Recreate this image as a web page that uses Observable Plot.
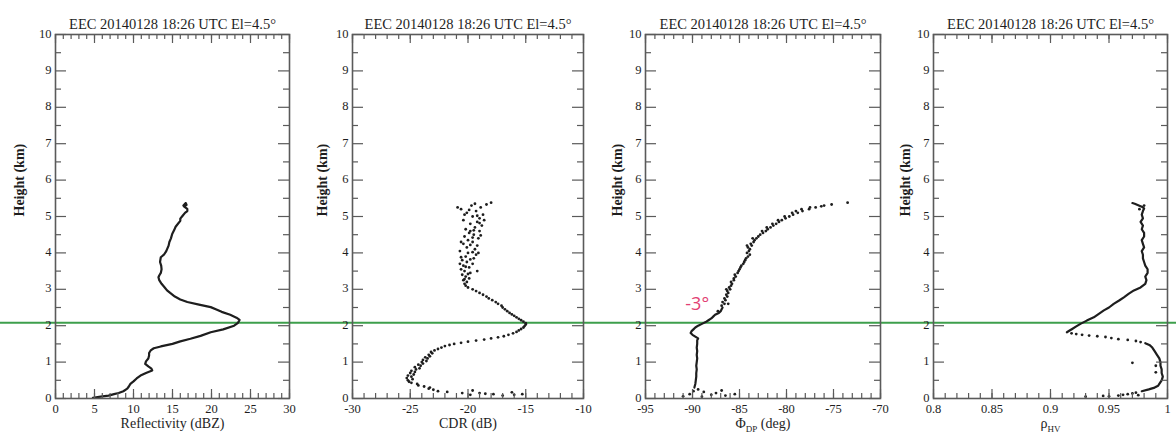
<!DOCTYPE html>
<html><head><meta charset="utf-8">
<script src="https://cdn.jsdelivr.net/npm/d3@7"></script>
<script src="https://cdn.jsdelivr.net/npm/@observablehq/plot@0.6"></script>
<style>
body{margin:0;background:#fff;}
#wrap{position:relative;width:1176px;height:443px;overflow:hidden;background:#fff;}
#wrap svg{position:absolute;top:0;max-width:none;}
</style></head><body><div id="wrap"></div>
<script>
const chartTitle = "EEC 20140128 18:26 UTC El=4.5°";
const heightLabel = "Height (km)";
const meltingLayerHeight = [2.08];
const heightMajor = [0,1,2,3,4,5,6,7,8,9,10];
const heightMinor = [0.5,1.5,2.5,3.5,4.5,5.5,6.5,7.5,8.5,9.5];

// Reflectivity profile [height km, dBZ]
const reflectivity = [[0.02,4.8],[0.05,5.8],[0.08,6.8],[0.12,7.5],[0.15,8.1],[0.2,8.7],[0.27,9.2],[0.33,9.4],[0.4,9.6],[0.47,10.0],[0.55,10.4],[0.63,10.9],[0.7,11.6],[0.77,12.4],[0.82,12.3],[0.88,11.9],[0.95,11.5],[1.02,11.6],[1.1,11.9],[1.18,12.0],[1.25,12.0],[1.32,12.2],[1.38,12.6],[1.43,13.5],[1.5,15.0],[1.57,16.0],[1.64,17.3],[1.72,18.6],[1.82,19.9],[1.9,21.5],[2.0,22.9],[2.08,23.4],[2.16,23.6],[2.22,23.2],[2.3,22.4],[2.38,21.3],[2.44,20.7],[2.51,19.9],[2.58,18.4],[2.65,16.9],[2.72,16.0],[2.8,15.3],[2.9,14.7],[2.97,14.3],[3.05,14.0],[3.15,13.6],[3.25,13.3],[3.33,13.2],[3.38,13.3],[3.45,13.5],[3.55,13.6],[3.65,13.55],[3.75,13.4],[3.88,13.5],[3.95,13.9],[4.05,14.2],[4.2,14.5],[4.3,14.6],[4.4,14.8],[4.52,14.96],[4.62,15.2],[4.72,15.4],[4.8,15.7],[4.88,16.0],[4.94,16.0],[5.02,16.3],[5.1,16.6],[5.15,16.9],[5.21,16.9],[5.27,16.5],[5.32,16.8],[5.37,16.7],[5.3,16.4]];

// CDR samples [height km, dB]
const cdr = [[0.08,-17.0],[0.1,-19.8],[0.12,-15.3],[0.13,-18.5],[0.15,-20.5],[0.17,-16.2],[0.18,-21.8],[0.2,-22.6],[0.22,-19.6],[0.24,-23.0],[0.27,-23.4],[0.3,-23.3],[0.33,-23.8],[0.36,-24.3],[0.4,-24.4],[0.43,-24.9],[0.46,-25.1],[0.5,-25.2],[0.53,-24.8],[0.56,-25.3],[0.6,-24.9],[0.63,-25.2],[0.66,-24.7],[0.7,-25.0],[0.73,-24.6],[0.76,-24.9],[0.8,-24.5],[0.83,-24.2],[0.86,-24.6],[0.9,-24.1],[0.93,-24.3],[0.96,-23.9],[1.0,-24.0],[1.03,-23.6],[1.06,-23.9],[1.1,-23.5],[1.13,-23.7],[1.16,-23.3],[1.2,-23.4],[1.24,-23.1],[1.28,-23.2],[1.32,-22.9],[1.36,-22.6],[1.4,-22.3],[1.44,-22.0],[1.47,-21.6],[1.5,-21.2],[1.53,-20.6],[1.56,-20.0],[1.59,-19.3],[1.62,-18.6],[1.65,-18.0],[1.68,-17.4],[1.71,-16.9],[1.75,-16.5],[1.79,-16.1],[1.83,-15.8],[1.87,-15.6],[1.91,-15.4],[1.95,-15.2],[1.99,-15.1],[2.03,-15.0],[2.07,-15.0],[2.11,-15.2],[2.15,-15.4],[2.19,-15.6],[2.23,-15.8],[2.27,-16.0],[2.31,-16.2],[2.35,-16.4],[2.4,-16.6],[2.45,-16.8],[2.5,-17.0],[2.55,-17.1],[2.6,-17.4],[2.65,-17.6],[2.7,-17.9],[2.75,-18.2],[2.8,-18.4],[2.85,-18.7],[2.9,-19.0],[2.95,-19.3],[3.0,-19.6],[3.05,-20.0],[3.1,-20.2],[3.15,-20.3],[3.2,-20.1],[3.25,-20.4],[3.3,-19.9],[3.35,-20.2],[3.4,-20.5],[3.45,-19.8],[3.5,-20.3],[3.55,-20.6],[3.6,-19.9],[3.65,-20.4],[3.7,-19.6],[3.75,-20.1],[3.8,-20.5],[3.85,-19.5],[3.9,-20.2],[3.95,-19.3],[4.0,-20.0],[4.05,-20.7],[4.1,-19.4],[4.15,-20.1],[4.2,-19.2],[4.25,-20.4],[4.3,-19.6],[4.35,-20.0],[4.4,-19.1],[4.45,-20.3],[4.5,-19.5],[4.55,-19.9],[4.6,-19.0],[4.65,-20.2],[4.7,-19.4],[4.75,-18.8],[4.8,-19.8],[4.85,-19.2],[4.9,-20.4],[4.95,-19.0],[5.0,-19.6],[5.05,-18.7],[5.1,-20.1],[5.15,-19.3],[5.2,-20.6],[5.25,-18.9],[5.3,-19.7],[5.33,-18.4],[5.38,-18.0],[3.5,-19.2],[3.7,-20.7],[4.0,-19.1],[4.3,-20.6],[4.6,-19.8],[4.9,-18.6],[5.05,-20.3],[5.25,-20.9],[5.35,-19.4],[0.15,-19.0],[0.12,-17.8],[0.1,-16.0],[3.42,-20.0],[3.62,-20.2],[3.82,-19.8],[4.02,-19.6],[4.22,-19.8],[4.42,-19.6],[4.62,-19.5],[4.82,-19.0],[5.02,-19.2],[5.18,-19.9],[3.28,-20.3],[3.88,-20.6],[4.48,-18.9]];

// Differential phase: continuous lower part and scattered samples [height km, deg]
const phiLine = [[0.3,-89.8],[0.4,-89.7],[0.5,-89.65],[0.6,-89.6],[0.7,-89.6],[0.8,-89.55],[0.9,-89.6],[1.0,-89.55],[1.1,-89.5],[1.2,-89.55],[1.3,-89.5],[1.4,-89.55],[1.5,-89.5],[1.6,-89.5],[1.65,-89.4],[1.7,-89.7],[1.75,-90.0],[1.8,-90.2],[1.85,-90.1],[1.9,-89.9],[1.95,-89.7],[2.0,-89.4],[2.05,-89.0],[2.1,-88.6],[2.15,-88.3],[2.2,-88.0],[2.25,-87.8],[2.3,-87.6],[2.35,-87.2],[2.4,-87.0],[2.45,-86.9],[2.5,-86.8]];
const phiDots = [[0.05,-89.0],[0.08,-86.5],[0.1,-88.0],[0.12,-90.3],[0.15,-87.5],[0.18,-88.8],[0.2,-89.9],[0.22,-86.9],[0.25,-89.4],[0.12,-85.5],[0.06,-91.0],[2.55,-86.9],[2.6,-86.6],[2.65,-86.8],[2.7,-86.5],[2.75,-86.6],[2.8,-86.3],[2.85,-86.4],[2.9,-86.2],[2.95,-86.3],[3.0,-86.0],[3.05,-86.1],[3.1,-85.9],[3.15,-85.8],[3.2,-85.9],[3.25,-85.6],[3.3,-85.6],[3.35,-85.4],[3.4,-85.5],[3.45,-85.2],[3.5,-85.1],[3.55,-85.0],[3.6,-84.9],[3.65,-84.8],[3.7,-84.6],[3.75,-84.5],[3.8,-84.4],[3.85,-84.3],[3.9,-84.1],[3.95,-83.9],[4.0,-84.2],[4.05,-84.0],[4.1,-83.9],[4.15,-84.1],[4.2,-83.7],[4.25,-83.8],[4.3,-83.5],[4.35,-83.4],[4.4,-83.2],[4.45,-83.0],[4.5,-82.8],[4.55,-82.5],[4.6,-82.2],[4.65,-82.0],[4.7,-81.7],[4.75,-81.4],[4.8,-81.1],[4.85,-80.8],[4.9,-80.5],[4.95,-80.1],[5.0,-79.7],[5.05,-79.3],[5.1,-78.8],[5.15,-78.3],[5.2,-77.6],[5.25,-76.9],[5.3,-76.0],[5.33,-75.2],[5.38,-73.5],[4.6,-82.6],[4.8,-81.5],[4.9,-80.9],[5.0,-80.2],[5.1,-79.4],[5.15,-79.0],[5.2,-78.4],[5.25,-77.5],[5.28,-76.3],[4.7,-82.1],[3.0,-86.4],[2.6,-86.2],[2.4,-87.3],[4.4,-83.6],[4.2,-84.2]];
const phiNote = [{text: "-3°", phi: -89.5, height: 2.6}];

// Copolar correlation [height km, rhoHV]
const rhoLower = [[0.2,0.978],[0.25,0.984],[0.3,0.989],[0.35,0.992],[0.4,0.993],[0.5,0.995],[0.6,0.996],[0.7,0.995],[0.8,0.995],[0.9,0.994],[1.0,0.994],[1.1,0.993],[1.2,0.991],[1.3,0.989],[1.4,0.987],[1.46,0.985],[1.52,0.981]];
const rhoUpper = [[1.82,0.914],[1.86,0.916],[1.91,0.9185],[1.98,0.922],[2.05,0.9256],[2.14,0.931],[2.23,0.937],[2.32,0.941],[2.42,0.9456],[2.5,0.95],[2.6,0.954],[2.7,0.959],[2.78,0.9627],[2.88,0.967],[2.97,0.9713],[3.05,0.977],[3.15,0.981],[3.25,0.982],[3.35,0.981],[3.45,0.983],[3.55,0.983],[3.65,0.981],[3.75,0.980],[3.85,0.979],[3.95,0.979],[4.05,0.978],[4.15,0.980],[4.25,0.979],[4.35,0.978],[4.45,0.980],[4.55,0.980],[4.65,0.978],[4.75,0.979],[4.85,0.977],[4.95,0.979],[5.05,0.978],[5.15,0.979],[5.22,0.980],[5.27,0.978],[5.31,0.975],[5.35,0.972],[5.37,0.970]];
const rhoDots = [[1.55,0.977],[1.58,0.973],[1.61,0.966],[1.63,0.958],[1.66,0.952],[1.69,0.947],[1.71,0.94],[1.73,0.933],[1.75,0.927],[1.77,0.922],[1.79,0.918],[0.05,0.93],[0.07,0.945],[0.08,0.958],[0.1,0.962],[0.12,0.966],[0.14,0.97],[0.16,0.973],[0.06,0.95],[0.09,0.975],[0.98,0.97],[0.9,0.99],[0.72,0.99],[5.3,0.98],[5.2,0.976]];

const panels = [
  {left: 0, width: 300, ml: 55, mr: 11, domain: [0,30], major: [0,5,10,15,20,25,30], minor: d3.range(0,31,1), label: {main: "Reflectivity (dBZ)"}, yLabelDx: -36},
  {left: 300, width: 295, ml: 52, mr: 12, domain: [-30,-10], major: [-30,-25,-20,-15,-10], minor: d3.range(-30,-9,1), label: {main: "CDR (dB)"}, yLabelDx: -30},
  {left: 595, width: 295, ml: 50, mr: 10, domain: [-95,-70], major: [-95,-90,-85,-80,-75,-70], minor: d3.range(-95,-69,1), label: {main: "Φ", sub: "DP", rest: " (deg)"}, yLabelDx: -28},
  {left: 890, width: 286, ml: 43, mr: 9, domain: [0.8,1], major: [0.8,0.85,0.9,0.95,1], minor: d3.range(80,101,1).map(d => d/100), label: {main: "ρ", sub: "HV", rest: ""}, yLabelDx: -28}
];

const ink = "#1e1e1e";
const axisGray = "#5a5a5a";
const H = 443, MT = 34, MB = 45;
const FH = H - MT - MB;

function dataMarks(i) {
  const X = d => d[1], Y = d => d[0];
  if (i === 0) return [Plot.line(reflectivity, {x: X, y: Y, stroke: ink, strokeWidth: 2.2})];
  if (i === 1) return [Plot.dot(cdr, {x: X, y: Y, r: 1.4, fill: ink, stroke: "none"})];
  if (i === 2) return [
    Plot.line(phiLine, {x: X, y: Y, stroke: ink, strokeWidth: 2.2}),
    Plot.dot(phiDots, {x: X, y: Y, r: 1.4, fill: ink, stroke: "none"}),
    Plot.text(phiNote, {x: "phi", y: "height", text: "text", fill: "#e23f74", fontSize: 18, fontFamily: "'Open Sans', 'Noto Sans', sans-serif"})
  ];
  return [
    Plot.line(rhoLower, {x: X, y: Y, stroke: ink, strokeWidth: 2.2}),
    Plot.line(rhoUpper, {x: X, y: Y, stroke: ink, strokeWidth: 2.2}),
    Plot.dot(rhoDots, {x: X, y: Y, r: 1.4, fill: ink, stroke: "none"})
  ];
}

panels.forEach((p, i) => {
  const FW = p.width - p.ml - p.mr;
  const labelText = p.label.sub ? p.label.main + "_" + p.label.sub + p.label.rest : p.label.main;
  const svg = Plot.plot({
    width: p.width, height: H,
    marginLeft: p.ml, marginRight: p.mr, marginTop: MT, marginBottom: MB,
    style: {fontFamily: "'Liberation Serif', 'Times New Roman', serif", fontSize: "13px", color: ink, background: "#fff"},
    x: {domain: p.domain, label: null},
    y: {domain: [0, 10], label: null},
    marks: [
      Plot.ruleY(meltingLayerHeight, {stroke: "#3e9f4c", strokeWidth: 2, insetLeft: -p.ml, insetRight: -p.mr}),
      ...dataMarks(i),
      Plot.ruleX(p.minor, {stroke: axisGray, strokeWidth: 1.2, insetTop: FH - 5}),
      Plot.ruleX(p.major, {stroke: axisGray, strokeWidth: 1.2, insetTop: FH - 9}),
      Plot.ruleX(p.minor, {stroke: axisGray, strokeWidth: 1.2, insetBottom: FH - 5}),
      Plot.ruleX(p.major, {stroke: axisGray, strokeWidth: 1.2, insetBottom: FH - 9}),
      Plot.ruleY(heightMinor, {stroke: axisGray, strokeWidth: 1.2, insetRight: FW - 6}),
      Plot.ruleY(heightMajor, {stroke: axisGray, strokeWidth: 1.2, insetRight: FW - 11}),
      Plot.ruleY(heightMinor, {stroke: axisGray, strokeWidth: 1.2, insetLeft: FW - 6}),
      Plot.ruleY(heightMajor, {stroke: axisGray, strokeWidth: 1.2, insetLeft: FW - 11}),
      Plot.frame({stroke: axisGray, strokeWidth: 1.6}),
      Plot.axisX({ticks: p.major, tickSize: 0, tickPadding: 6, tickFormat: d => String(d), fontSize: 12.5, label: null}),
      Plot.axisY({ticks: heightMajor, tickSize: 0, tickPadding: 4, tickFormat: d => String(d), fontSize: 12.5, dy: -1, label: null}),
      Plot.text([chartTitle], {frameAnchor: "top", dy: -16, fontSize: 14.5, fill: ink}),
      Plot.text([labelText], {frameAnchor: "bottom", dy: 29, fontSize: 14, fill: ink}),
      Plot.text([heightLabel], {frameAnchor: "left", dx: p.yLabelDx, rotate: -90, fontSize: 14, fill: ink, fontWeight: "bold"})
    ]
  });
  svg.style.left = p.left + "px";
  if (p.label.sub) {
    d3.select(svg).selectAll("text").filter(function() { return this.textContent === labelText; }).each(function() {
      const t = d3.select(this);
      t.text(null);
      t.append("tspan").text(p.label.main);
      t.append("tspan").attr("dy", "4").attr("font-size", "9").text(p.label.sub);
      t.append("tspan").attr("dy", "-4").text(p.label.rest);
    });
  }
  document.getElementById("wrap").appendChild(svg);
});
</script>
</body></html>
